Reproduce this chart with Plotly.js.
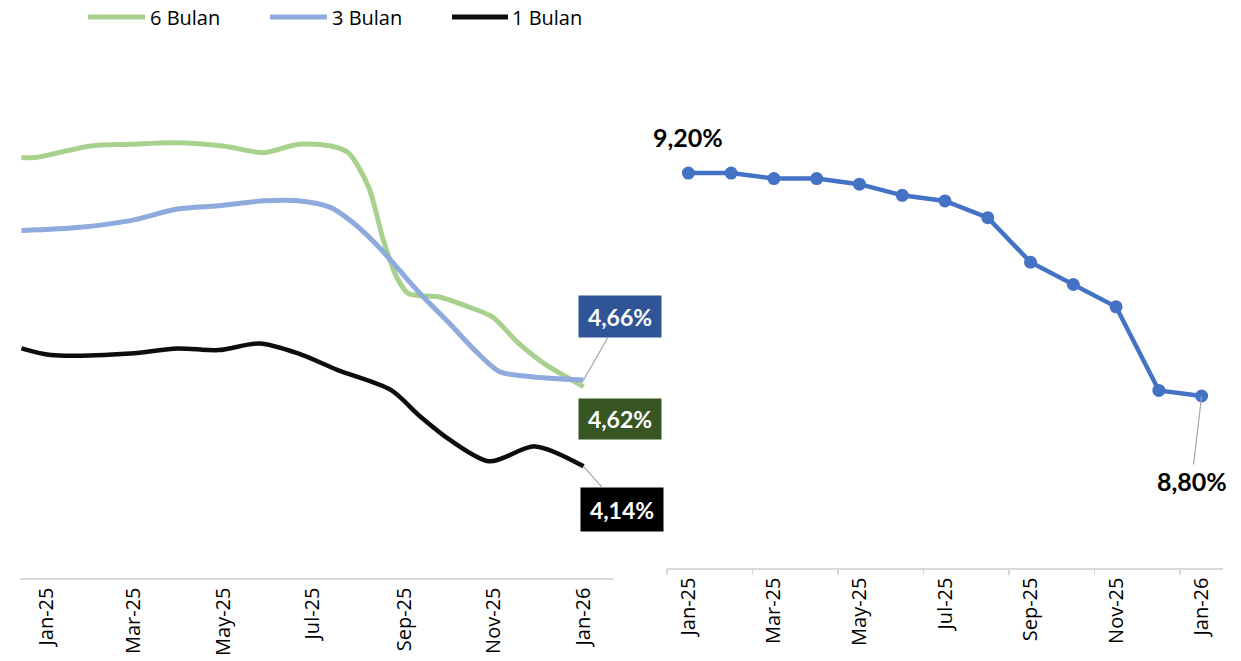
<!DOCTYPE html>
<html>
<head>
<meta charset="utf-8">
<script src="https://cdn.plot.ly/plotly-3.0.1.min.js"></script>
<style>html,body{margin:0;padding:0;background:#fff;}#chart{width:1241px;height:661px;}</style>
</head>
<body>
<div id="chart"></div>
<script>
// ---- Left chart: yield curves (%) ----
const dates6 = ['2024-12-15','2024-12-24','2025-01-31','2025-02-27','2025-03-30','2025-05-01','2025-05-29','2025-06-21','2025-07-13','2025-07-25','2025-08-08','2025-08-18','2025-08-27','2025-09-04','2025-09-25','2025-10-15','2025-10-31','2025-11-18','2025-12-05','2026-01-01'];
const bulan6 = [6.00,6.00,6.07,6.08,6.09,6.07,6.03,6.08,6.07,6.03,5.82,5.50,5.28,5.18,5.16,5.10,5.04,4.88,4.76,4.62];

const dates3 = ['2024-12-15','2025-01-24','2025-02-27','2025-03-31','2025-04-28','2025-05-29','2025-06-21','2025-07-13','2025-07-28','2025-08-15','2025-08-29','2025-09-12','2025-10-02','2025-10-19','2025-11-05','2025-11-26','2026-01-01'];
const bulan3 = [5.56,5.58,5.62,5.69,5.71,5.74,5.74,5.70,5.61,5.46,5.32,5.18,5.00,4.84,4.71,4.68,4.66];

const dates1 = ['2024-12-15','2025-01-04','2025-02-27','2025-03-31','2025-04-28','2025-05-26','2025-06-21','2025-07-18','2025-08-23','2025-09-12','2025-10-02','2025-10-29','2025-11-29','2026-01-01'];
const bulan1 = [4.85,4.81,4.82,4.85,4.84,4.88,4.82,4.72,4.60,4.44,4.30,4.17,4.26,4.14];

// ---- Right chart: monthly series (%) ----
const months = ['Jan-25','Feb-25','Mar-25','Apr-25','May-25','Jun-25','Jul-25','Aug-25','Sep-25','Oct-25','Nov-25','Dec-25','Jan-26'];
const rightVals = [9.20,9.20,9.19,9.19,9.18,9.16,9.15,9.12,9.04,9.00,8.96,8.81,8.80];
const rightTicks = ['Jan-25','Mar-25','May-25','Jul-25','Sep-25','Nov-25','Jan-26'];

const names = ['6 Bulan','3 Bulan','1 Bulan'];
const colors = ['#A9D18E','#8FAADC','#0D0D0D'];
const fmt = v => v.toFixed(2).replace('.', ',') + '%';

const W = 1241, H = 661;
const px = p => p / W;
const py = p => (H - p) / H;

const traces = [
  {x: dates6, y: bulan6, name: names[0], type: 'scatter', mode: 'lines',
   line: {color: colors[0], width: 5, shape: 'spline', smoothing: 0.8}, xaxis: 'x', yaxis: 'y'},
  {x: dates3, y: bulan3, name: names[1], type: 'scatter', mode: 'lines',
   line: {color: colors[1], width: 5, shape: 'spline', smoothing: 0.8}, xaxis: 'x', yaxis: 'y'},
  {x: dates1, y: bulan1, name: names[2], type: 'scatter', mode: 'lines',
   line: {color: colors[2], width: 4.5, shape: 'spline', smoothing: 0.8}, xaxis: 'x', yaxis: 'y'},
  {x: months, y: rightVals, type: 'scatter', mode: 'lines+markers',
   line: {color: '#4472C4', width: 4.5}, marker: {color: '#4472C4', size: 13},
   xaxis: 'x2', yaxis: 'y2'},
  // empty helper trace so the tick-mark axis (between categories) is drawn
  {x: [], y: [], type: 'scatter', mode: 'lines', xaxis: 'x3', yaxis: 'y2', hoverinfo: 'skip'}
];

const tickFont = {family: 'Open Sans, sans-serif', size: 20, color: '#000'};
const lblFont = {family: 'Lato, sans-serif', size: 23, color: '#fff', weight: 'bold'};
const lblFontBlk = {family: 'Lato, sans-serif', size: 25, color: '#000', weight: 'bold'};
const legFont = {family: 'Open Sans, sans-serif', size: 20, color: '#000'};

const n6 = bulan6.length - 1, n3 = bulan3.length - 1, n1 = bulan1.length - 1, nr = rightVals.length - 1;

const annotations = [
  {xref: 'x', yref: 'y', x: dates3[n3], y: bulan3[n3], text: '<b>' + fmt(bulan3[n3]) + '</b>',
   showarrow: true, arrowhead: 0, arrowwidth: 1.2, arrowcolor: '#A6A6A6', ax: 36, ay: -63,
   bgcolor: '#2F5597', width: 76, height: 35, borderpad: 3, font: lblFont},
  {xref: 'x', yref: 'y', x: dates6[n6], y: bulan6[n6], text: '<b>' + fmt(bulan6[n6]) + '</b>',
   showarrow: false, xshift: 36, yshift: -32,
   bgcolor: '#375623', width: 76, height: 34, borderpad: 3, font: lblFont},
  {xref: 'x', yref: 'y', x: dates1[n1], y: bulan1[n1], text: '<b>' + fmt(bulan1[n1]) + '</b>',
   showarrow: true, arrowhead: 0, arrowwidth: 1.2, arrowcolor: '#A6A6A6', ax: 38, ay: 43,
   bgcolor: '#000000', width: 76, height: 37, borderpad: 3, font: lblFont},
  {xref: 'x2', yref: 'y2', x: months[0], y: rightVals[0], text: '<b>' + fmt(rightVals[0]) + '</b>',
   showarrow: false, yshift: 36, font: lblFontBlk},
  {xref: 'x2', yref: 'y2', x: months[nr], y: rightVals[nr], text: '<b>' + fmt(rightVals[nr]) + '</b>',
   showarrow: true, arrowhead: 0, arrowwidth: 1.2, arrowcolor: '#A6A6A6', ax: -10, ay: 85,
   font: lblFontBlk}
];

// custom legend (long line samples like the original)
const legLineX = [[88, 145], [270, 327], [452, 508]];
const legTextX = [148, 330, 510];
const legY = 17;
const shapes = [];
names.forEach((n, i) => {
  shapes.push({type: 'line', xref: 'paper', yref: 'paper',
    x0: px(legLineX[i][0]), x1: px(legLineX[i][1]), y0: py(legY), y1: py(legY),
    line: {color: colors[i], width: 5}});
  annotations.push({xref: 'paper', yref: 'paper', x: px(legTextX[i]), y: py(legY),
    xanchor: 'left', yanchor: 'middle', text: n, showarrow: false, font: legFont});
});

const layout = {
  width: W, height: H,
  margin: {l: 0, r: 0, t: 0, b: 0},
  paper_bgcolor: '#fff', plot_bgcolor: '#fff',
  showlegend: false,
  xaxis: {type: 'date', domain: [px(20), px(613)], range: ['2024-12-14', '2026-01-21'],
          tickformat: '%b-%y', dtick: 'M2', tick0: '2025-01-01', tickangle: -90,
          ticks: '', showgrid: false, zeroline: false, showline: true,
          linecolor: '#D9D9D9', linewidth: 1.5, tickfont: tickFont, anchor: 'y', fixedrange: true},
  yaxis: {domain: [py(578), py(60)], range: [3.467, 6.588], visible: false, fixedrange: true},
  xaxis2: {type: 'category', domain: [px(667), px(1223)], range: [-0.5, 12.5],
           tickmode: 'array', tickvals: rightTicks, ticktext: rightTicks, tickangle: -90,
           ticks: '', showgrid: false, zeroline: false, showline: true,
           linecolor: '#D9D9D9', linewidth: 1.5, tickfont: tickFont, anchor: 'y2', fixedrange: true},
  xaxis3: {overlaying: 'x2', anchor: 'y2', domain: [px(667), px(1223)], range: [-0.5, 12.5],
           type: 'linear', tickmode: 'array', tickvals: [-0.5, 1.5, 3.5, 5.5, 7.5, 9.5, 11.5],
           ticks: 'outside', ticklen: 6, tickwidth: 1.5, tickcolor: '#D9D9D9',
           showticklabels: false, showgrid: false, zeroline: false, showline: false, fixedrange: true},
  yaxis2: {domain: [py(568), py(100)], range: [8.4915, 9.331], visible: false, fixedrange: true},
  shapes: shapes,
  annotations: annotations
};

Plotly.newPlot('chart', traces, layout, {staticPlot: true, displayModeBar: false});
</script>
</body>
</html>
